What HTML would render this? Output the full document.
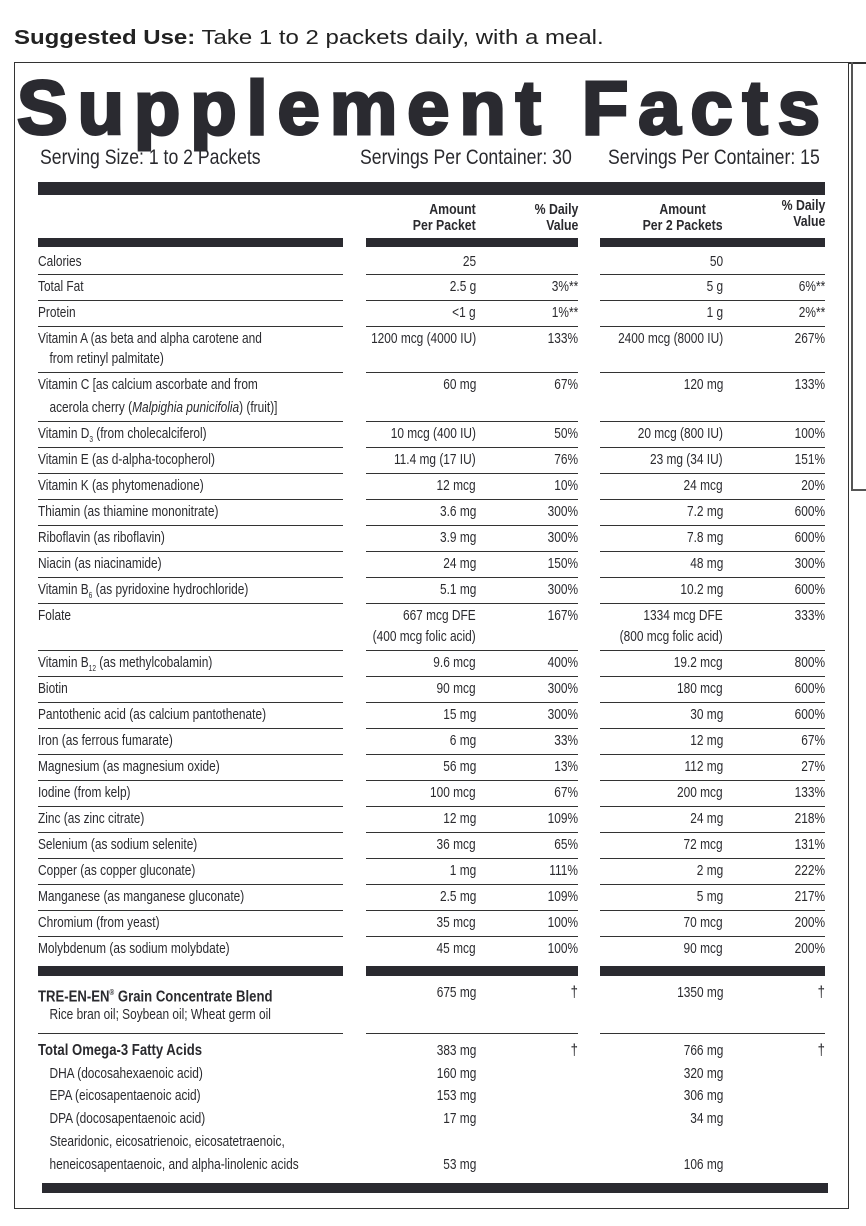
<!DOCTYPE html>
<html><head><meta charset="utf-8"><style>
html,body{margin:0;padding:0;background:#fff}
body{width:866px;height:1226px;position:relative;overflow:hidden;color:#2a2a2e;font-family:"Liberation Sans",sans-serif}
.abs{position:absolute}
.r{position:absolute;left:0;width:866px;height:18px;line-height:18px;font-size:14.5px;white-space:nowrap}
.r span{position:absolute;top:0;transform:scaleX(0.82)}
.l{left:38px;transform-origin:left center}
.a,.d,.b,.e{transform-origin:right center}
.a{right:390px}.d{right:288px}.b{right:143px}.e{right:41px}
.ln{position:absolute;left:0;width:866px;height:1px}
.ln i{position:absolute;top:0;height:1px;background:#333}
.bar{position:absolute;left:0;width:866px}
.bar i{position:absolute;top:0;height:100%;background:#2a2a30}
.x1{left:38px;width:305px}.x2{left:366px;width:212px}.x3{left:600px;width:225px}
.ind{padding-left:14px}
.sv{position:absolute;top:146px;font-size:21px;white-space:nowrap;transform:scaleX(0.84);transform-origin:left center}
</style></head><body>
<div class="abs" style="left:14px;top:26px;font-size:20.5px;color:#222;white-space:nowrap;transform:scaleX(1.17);transform-origin:left center"><b>Suggested Use:</b> Take 1 to 2 packets daily, with a meal.</div>
<div class="abs" style="left:14px;top:62px;width:835px;height:1147px;border:1.5px solid #333;box-sizing:border-box"></div>
<div class="abs" style="left:849px;top:62px;width:17px;height:1.5px;background:#333"></div>
<div class="abs" style="left:851px;top:62px;width:1.5px;height:428px;background:#555"></div>
<div class="abs" style="left:851px;top:489px;width:15px;height:1.5px;background:#555"></div>
<svg class="abs" style="left:0;top:0" width="866" height="160"><text x="17" y="134" textLength="803" lengthAdjust="spacing" font-family="Liberation Sans" font-weight="900" font-size="76" fill="#2a2a30" stroke="#2a2a30" stroke-width="3">Supplement Facts</text></svg>
<div class="sv" style="left:40px">Serving Size: 1 to 2 Packets</div>
<div class="sv" style="left:360px">Servings Per Container: 30</div>
<div class="sv" style="left:608px">Servings Per Container: 15</div>
<div class="abs" style="left:38px;top:182px;width:787px;height:13px;background:#2a2a30"></div>
<div class="r" style="top:202px;height:34px;line-height:16px;font-weight:bold;font-size:15px">
<span class="a" style="text-align:right">Amount<br>Per Packet</span>
<span class="d" style="text-align:right">% Daily<br>Value</span>
<span class="b" style="text-align:center">Amount<br>Per 2 Packets</span>
<span class="e" style="text-align:right;top:-4px">% Daily<br>Value</span></div>
<div class="bar" style="top:238px;height:9px"><i class="x1"></i><i class="x2"></i><i class="x3"></i></div>

<div class="r" style="top:253px"><span class="l">Calories</span><span class="a">25</span><span class="b">50</span></div>
<div class="ln" style="top:274px"><i class="x1"></i><i class="x2"></i><i class="x3"></i></div>
<div class="r" style="top:278px"><span class="l">Total Fat</span><span class="a">2.5 g</span><span class="d">3%**</span><span class="b">5 g</span><span class="e">6%**</span></div>
<div class="ln" style="top:300px"><i class="x1"></i><i class="x2"></i><i class="x3"></i></div>
<div class="r" style="top:304px"><span class="l">Protein</span><span class="a">&lt;1 g</span><span class="d">1%**</span><span class="b">1 g</span><span class="e">2%**</span></div>
<div class="ln" style="top:326px"><i class="x1"></i><i class="x2"></i><i class="x3"></i></div>
<div class="r" style="top:330px"><span class="l">Vitamin A (as beta and alpha carotene and</span><span class="a">1200 mcg (4000 IU)</span><span class="d">133%</span><span class="b">2400 mcg (8000 IU)</span><span class="e">267%</span></div>
<div class="r" style="top:350px"><span class="l ind">from retinyl palmitate)</span></div>
<div class="ln" style="top:372px"><i class="x1"></i><i class="x2"></i><i class="x3"></i></div>
<div class="r" style="top:376px"><span class="l">Vitamin C [as calcium ascorbate and from</span><span class="a">60 mg</span><span class="d">67%</span><span class="b">120 mg</span><span class="e">133%</span></div>
<div class="r" style="top:399px"><span class="l ind">acerola cherry (<i>Malpighia punicifolia</i>) (fruit)]</span></div>
<div class="ln" style="top:421px"><i class="x1"></i><i class="x2"></i><i class="x3"></i></div>
<div class="r" style="top:425px"><span class="l">Vitamin D<sub style="font-size:8px">3</sub> (from cholecalciferol)</span><span class="a">10 mcg (400 IU)</span><span class="d">50%</span><span class="b">20 mcg (800 IU)</span><span class="e">100%</span></div>
<div class="ln" style="top:447px"><i class="x1"></i><i class="x2"></i><i class="x3"></i></div>
<div class="r" style="top:451px"><span class="l">Vitamin E (as d-alpha-tocopherol)</span><span class="a">11.4 mg (17 IU)</span><span class="d">76%</span><span class="b">23 mg (34 IU)</span><span class="e">151%</span></div>
<div class="ln" style="top:473px"><i class="x1"></i><i class="x2"></i><i class="x3"></i></div>
<div class="r" style="top:477px"><span class="l">Vitamin K (as phytomenadione)</span><span class="a">12 mcg</span><span class="d">10%</span><span class="b">24 mcg</span><span class="e">20%</span></div>
<div class="ln" style="top:499px"><i class="x1"></i><i class="x2"></i><i class="x3"></i></div>
<div class="r" style="top:503px"><span class="l">Thiamin (as thiamine mononitrate)</span><span class="a">3.6 mg</span><span class="d">300%</span><span class="b">7.2 mg</span><span class="e">600%</span></div>
<div class="ln" style="top:525px"><i class="x1"></i><i class="x2"></i><i class="x3"></i></div>
<div class="r" style="top:529px"><span class="l">Riboflavin (as riboflavin)</span><span class="a">3.9 mg</span><span class="d">300%</span><span class="b">7.8 mg</span><span class="e">600%</span></div>
<div class="ln" style="top:551px"><i class="x1"></i><i class="x2"></i><i class="x3"></i></div>
<div class="r" style="top:555px"><span class="l">Niacin (as niacinamide)</span><span class="a">24 mg</span><span class="d">150%</span><span class="b">48 mg</span><span class="e">300%</span></div>
<div class="ln" style="top:577px"><i class="x1"></i><i class="x2"></i><i class="x3"></i></div>
<div class="r" style="top:581px"><span class="l">Vitamin B<sub style="font-size:8px">6</sub> (as pyridoxine hydrochloride)</span><span class="a">5.1 mg</span><span class="d">300%</span><span class="b">10.2 mg</span><span class="e">600%</span></div>
<div class="ln" style="top:603px"><i class="x1"></i><i class="x2"></i><i class="x3"></i></div>
<div class="r" style="top:607px"><span class="l">Folate</span><span class="a">667 mcg DFE</span><span class="d">167%</span><span class="b">1334 mcg DFE</span><span class="e">333%</span></div>
<div class="r" style="top:628px"><span class="a">(400 mcg folic acid)</span><span class="b">(800 mcg folic acid)</span></div>
<div class="ln" style="top:650px"><i class="x1"></i><i class="x2"></i><i class="x3"></i></div>
<div class="r" style="top:654px"><span class="l">Vitamin B<sub style="font-size:8px">12</sub> (as methylcobalamin)</span><span class="a">9.6 mcg</span><span class="d">400%</span><span class="b">19.2 mcg</span><span class="e">800%</span></div>
<div class="ln" style="top:676px"><i class="x1"></i><i class="x2"></i><i class="x3"></i></div>
<div class="r" style="top:680px"><span class="l">Biotin</span><span class="a">90 mcg</span><span class="d">300%</span><span class="b">180 mcg</span><span class="e">600%</span></div>
<div class="ln" style="top:702px"><i class="x1"></i><i class="x2"></i><i class="x3"></i></div>
<div class="r" style="top:706px"><span class="l">Pantothenic acid (as calcium pantothenate)</span><span class="a">15 mg</span><span class="d">300%</span><span class="b">30 mg</span><span class="e">600%</span></div>
<div class="ln" style="top:728px"><i class="x1"></i><i class="x2"></i><i class="x3"></i></div>
<div class="r" style="top:732px"><span class="l">Iron (as ferrous fumarate)</span><span class="a">6 mg</span><span class="d">33%</span><span class="b">12 mg</span><span class="e">67%</span></div>
<div class="ln" style="top:754px"><i class="x1"></i><i class="x2"></i><i class="x3"></i></div>
<div class="r" style="top:758px"><span class="l">Magnesium (as magnesium oxide)</span><span class="a">56 mg</span><span class="d">13%</span><span class="b">112 mg</span><span class="e">27%</span></div>
<div class="ln" style="top:780px"><i class="x1"></i><i class="x2"></i><i class="x3"></i></div>
<div class="r" style="top:784px"><span class="l">Iodine (from kelp)</span><span class="a">100 mcg</span><span class="d">67%</span><span class="b">200 mcg</span><span class="e">133%</span></div>
<div class="ln" style="top:806px"><i class="x1"></i><i class="x2"></i><i class="x3"></i></div>
<div class="r" style="top:810px"><span class="l">Zinc (as zinc citrate)</span><span class="a">12 mg</span><span class="d">109%</span><span class="b">24 mg</span><span class="e">218%</span></div>
<div class="ln" style="top:832px"><i class="x1"></i><i class="x2"></i><i class="x3"></i></div>
<div class="r" style="top:836px"><span class="l">Selenium (as sodium selenite)</span><span class="a">36 mcg</span><span class="d">65%</span><span class="b">72 mcg</span><span class="e">131%</span></div>
<div class="ln" style="top:858px"><i class="x1"></i><i class="x2"></i><i class="x3"></i></div>
<div class="r" style="top:862px"><span class="l">Copper (as copper gluconate)</span><span class="a">1 mg</span><span class="d">111%</span><span class="b">2 mg</span><span class="e">222%</span></div>
<div class="ln" style="top:884px"><i class="x1"></i><i class="x2"></i><i class="x3"></i></div>
<div class="r" style="top:888px"><span class="l">Manganese (as manganese gluconate)</span><span class="a">2.5 mg</span><span class="d">109%</span><span class="b">5 mg</span><span class="e">217%</span></div>
<div class="ln" style="top:910px"><i class="x1"></i><i class="x2"></i><i class="x3"></i></div>
<div class="r" style="top:914px"><span class="l">Chromium (from yeast)</span><span class="a">35 mcg</span><span class="d">100%</span><span class="b">70 mcg</span><span class="e">200%</span></div>
<div class="ln" style="top:936px"><i class="x1"></i><i class="x2"></i><i class="x3"></i></div>
<div class="r" style="top:940px"><span class="l">Molybdenum (as sodium molybdate)</span><span class="a">45 mcg</span><span class="d">100%</span><span class="b">90 mcg</span><span class="e">200%</span></div>
<div class="bar" style="top:966px;height:10px"><i class="x1"></i><i class="x2"></i><i class="x3"></i></div>

<div class="r" style="top:984px;font-size:16px"><span class="l" style="font-weight:bold">TRE-EN-EN<sup style="font-size:8px">®</sup> Grain Concentrate Blend</span><span class="a" style="font-size:14.5px">675 mg</span><span class="d">†</span><span class="b" style="font-size:14.5px">1350 mg</span><span class="e">†</span></div>
<div class="r" style="top:1006px"><span class="l ind">Rice bran oil; Soybean oil; Wheat germ oil</span></div>
<div class="ln" style="top:1033px"><i class="x1"></i><i class="x2"></i><i class="x3"></i></div>
<div class="r" style="top:1042px;font-size:16px"><span class="l" style="font-weight:bold">Total Omega-3 Fatty Acids</span><span class="a" style="font-size:14.5px">383 mg</span><span class="d">†</span><span class="b" style="font-size:14.5px">766 mg</span><span class="e">†</span></div>
<div class="r" style="top:1065px"><span class="l ind">DHA (docosahexaenoic acid)</span><span class="a">160 mg</span><span class="b">320 mg</span></div>
<div class="r" style="top:1087px"><span class="l ind">EPA (eicosapentaenoic acid)</span><span class="a">153 mg</span><span class="b">306 mg</span></div>
<div class="r" style="top:1110px"><span class="l ind">DPA (docosapentaenoic acid)</span><span class="a">17 mg</span><span class="b">34 mg</span></div>
<div class="r" style="top:1133px"><span class="l ind">Stearidonic, eicosatrienoic, eicosatetraenoic,</span></div>
<div class="r" style="top:1156px"><span class="l ind">heneicosapentaenoic, and alpha-linolenic acids</span><span class="a">53 mg</span><span class="b">106 mg</span></div>
<div class="abs" style="left:42px;top:1183px;width:786px;height:10px;background:#2a2a30"></div>
</body></html>
